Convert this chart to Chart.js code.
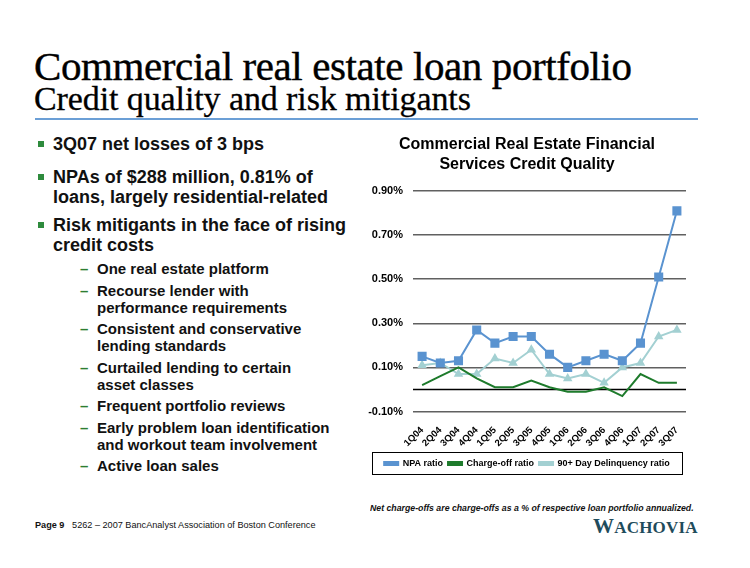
<!DOCTYPE html>
<html>
<head>
<meta charset="utf-8">
<script src="https://cdn.jsdelivr.net/npm/chart.js@4"></script>
<style>
  body { margin: 0; background: #fff; }
  #page { position: relative; width: 750px; height: 568px; overflow: hidden; font-family: "Liberation Sans", Arial, sans-serif; }
  .title { position: absolute; left: 34px; top: 42px; font-family: "Liberation Serif", "Times New Roman", serif; font-size: 41px; color: #000; white-space: nowrap; letter-spacing: -0.4px; -webkit-text-stroke: 0.4px #000; }
  .subtitle { position: absolute; left: 34px; top: 80px; font-family: "Liberation Serif", "Times New Roman", serif; font-size: 34px; color: #000; white-space: nowrap; letter-spacing: -0.1px; -webkit-text-stroke: 0.3px #000; }
  .rule { position: absolute; left: 35px; top: 118px; width: 663px; height: 2px; background: #6b9fd6; }
  .bullets { position: absolute; left: 38px; top: 134px; width: 340px; font-weight: bold; color: #111; }
  .b { position: relative; padding-left: 15px; font-size: 18px; line-height: 20px; white-space: nowrap; }
  .b::before { content: ""; position: absolute; left: 0; top: 7px; width: 6px; height: 6px; background: #2e8b3d; }
  .s { position: relative; padding-left: 59px; font-size: 15px; line-height: 17px; margin-top: 4.5px; white-space: nowrap; }
  .s::before { content: "\2013"; position: absolute; left: 42px; top: 0; color: #2e7d32; }
  #chartBox { position: absolute; left: 368px; top: 126px; width: 338px; height: 352px; }
  .note { position: absolute; left: 370px; top: 502px; font-size: 9.5px; font-weight: bold; font-style: italic; color: #111; white-space: nowrap; transform: scaleX(0.92); transform-origin: left top; }
  .foot { position: absolute; left: 35px; top: 519px; font-size: 9.5px; color: #111; white-space: nowrap; transform: scaleX(0.96); transform-origin: left top; }
  .foot b { margin-right: 8px; }
  .logo { position: absolute; left: 593px; top: 514px; font-family: "Liberation Serif", "Times New Roman", serif; font-size: 21px; font-weight: bold; color: #1f4c5c; letter-spacing: 0.2px; white-space: nowrap; }
  .logo span { font-size: 17px; }
</style>
</head>
<body>
<div id="page">
  <div class="title">Commercial real estate loan portfolio</div>
  <div class="subtitle">Credit quality and risk mitigants</div>
  <div class="rule"></div>
  <div class="bullets">
    <div class="b">3Q07 net losses of 3 bps</div>
    <div class="b" style="margin-top:13px">NPAs of $288 million, 0.81% of<br>loans, largely residential-related</div>
    <div class="b" style="margin-top:8px">Risk mitigants in the face of rising<br>credit costs</div>
    <div class="s" style="margin-top:5px">One real estate platform</div>
    <div class="s">Recourse lender with<br>performance requirements</div>
    <div class="s">Consistent and conservative<br>lending standards</div>
    <div class="s">Curtailed lending to certain<br>asset classes</div>
    <div class="s">Frequent portfolio reviews</div>
    <div class="s">Early problem loan identification<br>and workout team involvement</div>
    <div class="s">Active loan sales</div>
  </div>
  <div id="chartBox"><canvas id="creChart"></canvas></div>
  <div class="note">Net charge-offs are charge-offs as a % of respective loan portfolio annualized.</div>
  <div class="foot"><b>Page 9</b>5262 – 2007 BancAnalyst Association of Boston Conference</div>
  <div class="logo">W<span>ACHOVIA</span></div>
</div>
<script>
// ===== DATA (values in %) =====
const quarters = ['1Q04', '2Q04', '3Q04', '4Q04', '1Q05', '2Q05', '3Q05', '4Q05', '1Q06', '2Q06', '3Q06', '4Q06', '1Q07', '2Q07', '3Q07'];
const npaRatio = [0.15, 0.12, 0.13, 0.27, 0.21, 0.24, 0.24, 0.16, 0.10, 0.13, 0.16, 0.13, 0.21, 0.51, 0.81];
const chargeOffRatio = [0.02, 0.06, 0.10, 0.05, 0.01, 0.01, 0.04, 0.01, -0.01, -0.01, 0.01, -0.03, 0.07, 0.03, 0.03];
const delinquencyRatio = [0.11, 0.12, 0.07, 0.07, 0.14, 0.12, 0.18, 0.07, 0.05, 0.07, 0.03, 0.10, 0.12, 0.24, 0.27];
const yTicks = { min: -0.1, max: 0.9, step: 0.2 };

const FONT = '"Liberation Sans", Arial, sans-serif';

// zero line + legend frame
const extras = {
  id: 'extras',
  beforeDatasetsDraw(chart) {
    const { ctx, chartArea, scales } = chart;
    const y0 = scales.y.getPixelForValue(0);
    ctx.save();
    ctx.strokeStyle = '#000';
    ctx.lineWidth = 1.5;
    ctx.beginPath();
    ctx.moveTo(chartArea.left, y0);
    ctx.lineTo(chartArea.right, y0);
    ctx.stroke();
    ctx.restore();
  },
  afterDraw(chart) {
    const boxes = chart.legend.legendHitBoxes;
    if (!boxes || !boxes.length) return;
    const l = Math.min(...boxes.map(b => b.left));
    const r = Math.max(...boxes.map(b => b.left + b.width));
    const t = boxes[0].top, h = boxes[0].height;
    const ctx = chart.ctx;
    ctx.save();
    ctx.strokeStyle = '#000';
    ctx.lineWidth = 1;
    ctx.strokeRect(Math.round(l - 12) + 0.5, Math.round(t - 7) + 0.5, Math.round(r - l + 24), Math.round(h + 13));
    ctx.restore();
  }
};

new Chart(document.getElementById('creChart'), {
  type: 'line',
  data: {
    labels: quarters,
    datasets: [
      {
        label: 'NPA ratio',
        data: npaRatio,
        borderColor: '#5a93d0',
        backgroundColor: '#5a93d0',
        borderWidth: 2,
        pointStyle: 'rect',
        pointRadius: 5,
        tension: 0
      },
      {
        label: 'Charge-off ratio',
        data: chargeOffRatio,
        borderColor: '#1e7b2c',
        backgroundColor: '#1e7b2c',
        borderWidth: 2,
        pointRadius: 0,
        tension: 0
      },
      {
        label: '90+ Day Delinquency ratio',
        data: delinquencyRatio,
        borderColor: '#a3d0d2',
        backgroundColor: '#a3d0d2',
        borderWidth: 2,
        pointStyle: 'triangle',
        pointRadius: 3.5,
        tension: 0
      }
    ]
  },
  options: {
    responsive: true,
    maintainAspectRatio: false,
    animation: false,
    layout: { padding: { left: 0, right: 20, top: 0, bottom: 0 } },
    plugins: {
      title: {
        display: true,
        text: ['Commercial Real Estate Financial', 'Services Credit Quality'],
        color: '#000',
        font: { family: FONT, size: 16, weight: 'bold', lineHeight: 1.25 },
        padding: { top: 9, bottom: 16 }
      },
      legend: {
        position: 'bottom',
        labels: {
          color: '#000',
          font: { family: FONT, size: 9, weight: 'bold' },
          boxWidth: 14,
          boxHeight: 3,
          padding: 5
        }
      },
      tooltip: { enabled: false }
    },
    scales: {
      x: {
        offset: true,
        grid: { display: false },
        border: { display: false },
        ticks: {
          color: '#000',
          font: { family: FONT, size: 9.5, weight: 'bold' },
          minRotation: 45,
          maxRotation: 45,
          padding: 5,
          autoSkip: false
        }
      },
      y: {
        min: yTicks.min,
        max: yTicks.max,
        border: { display: false },
        grid: { color: '#606060', lineWidth: 1.5, drawTicks: false },
        afterFit: s => { s.width = 45; },
        ticks: {
          stepSize: yTicks.step,
          color: '#000',
          padding: 10,
          font: { family: FONT, size: 11, weight: 'bold' },
          callback: v => v.toFixed(2) + '%'
        }
      }
    }
  },
  plugins: [extras]
});
</script>
</body>
</html>
